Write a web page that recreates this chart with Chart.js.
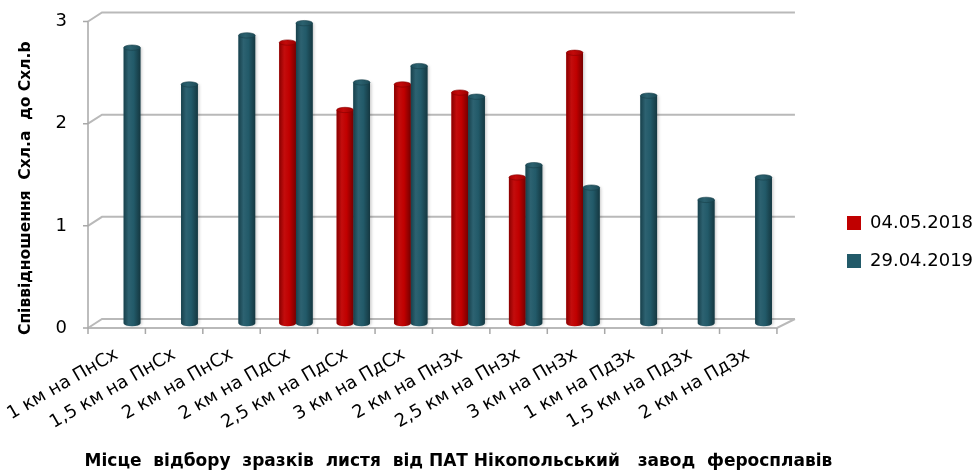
<!DOCTYPE html>
<html>
<head>
<meta charset="utf-8">
<script src="https://cdn.jsdelivr.net/npm/chart.js@4/dist/chart.umd.min.js"></script>
<style>
  html, body { margin: 0; padding: 0; background: #ffffff; }
  canvas { display: block; }
</style>
</head>
<body>
<canvas id="chart" width="980" height="470"></canvas>
<script>
// Sampling points (distance and direction from the plant)
const categories = [
  '1 км на ПнСх', '1,5 км на ПнСх', '2 км на ПнСх',
  '2 км на ПдСх', '2,5 км на ПдСх', '3 км на ПдСх',
  '2 км на ПнЗх', '2,5 км на ПнЗх', '3 км на ПнЗх',
  '1 км на ПдЗх', '1,5 км на ПдЗх', '2 км на ПдЗх'
];
const seriesNames = ['04.05.2018', '29.04.2019'];
const values2018 = [null, null, null, 2.75, 2.09, 2.34, 2.26, 1.43, 2.65, null, null, null];
const values2019 = [2.70, 2.34, 2.82, 2.94, 2.36, 2.52, 2.22, 1.55, 1.33, 2.23, 1.21, 1.43];
const yTicks = [0, 1, 2, 3];
const yTitle = 'Співвідношення  Схл.а  до Схл.b';
const xTitle = 'Місце  відбору  зразків  листя  від ПАТ Нікопольський   завод  феросплавів';

const RED = '#c00000';
const TEAL = '#225a69';
const FONT = 'DejaVu Sans';

// The plot area is the middle plane of a shallow 3D box:
// the front plane sits at (-HX, +HY), the back wall at (+HX, -HY).
const HX = 7, HY = 4.5;
// gap between the labels and the front axes
const Y_LABEL_GAP = 21, X_LABEL_GAP = 16;

function shade(hex, f) {
  const n = parseInt(hex.slice(1), 16);
  let r = (n >> 16) & 255, g = (n >> 8) & 255, b = n & 255;
  const t = f < 0 ? 0 : 255, p = Math.abs(f);
  r = Math.round((t - r) * p + r);
  g = Math.round((t - g) * p + g);
  b = Math.round((t - b) * p + b);
  return `rgb(${r},${g},${b})`;
}

// Walls, floor and gridlines of the 3D frame
const frame3d = {
  id: 'frame3d',
  beforeDatasetsDraw(chart) {
    const { ctx, scales: { x, y } } = chart;
    const L = x.left, R = x.right;
    const base = y.getPixelForValue(0);
    const top = y.getPixelForValue(yTicks[yTicks.length - 1]);
    const backRight = R + 11;
    ctx.save();
    ctx.lineCap = 'butt';

    // back-wall gridlines with the side-wall diagonal
    ctx.strokeStyle = '#b9b9b9';
    ctx.lineWidth = 2;
    yTicks.forEach(v => {
      const py = y.getPixelForValue(v);
      ctx.beginPath();
      ctx.moveTo(L - HX, py + HY);
      ctx.lineTo(L + HX, py - HY);
      ctx.lineTo(backRight, py - HY);
      ctx.stroke();
    });

    // floor: front edge and right diagonal
    ctx.beginPath();
    ctx.moveTo(L - HX, base + HY);
    ctx.lineTo(R - HX, base + HY);
    ctx.lineTo(backRight, base - HY);
    ctx.stroke();

    // front value axis with its small tick marks
    ctx.strokeStyle = '#a8a8a8';
    ctx.lineWidth = 1.5;
    ctx.beginPath();
    ctx.moveTo(L - HX, top + HY);
    ctx.lineTo(L - HX, base + HY);
    yTicks.forEach(v => {
      const py = y.getPixelForValue(v) + HY;
      ctx.moveTo(L - HX - 5, py);
      ctx.lineTo(L - HX, py);
    });
    // category tick marks under the floor edge
    const step = (R - L) / categories.length;
    for (let i = 0; i <= categories.length; i++) {
      const px = L - HX + i * step;
      ctx.moveTo(px, base + HY);
      ctx.lineTo(px, base + HY + 6);
    }
    ctx.stroke();
    ctx.restore();
  }
};

// Cylindrical shading over each bar
const cylinders = {
  id: 'cylinders',
  afterDatasetsDraw(chart) {
    const ctx = chart.ctx;
    chart.data.datasets.forEach((ds, di) => {
      const meta = chart.getDatasetMeta(di);
      if (meta.hidden) return;
      const c = ds.backgroundColor;
      meta.data.forEach((bar, i) => {
        if (ds.data[i] == null) return;
        const { x, y, base, width } = bar.getProps(['x', 'y', 'base', 'width'], true);
        const l = x - width / 2, w = width, rx = w / 2, ry = Math.max(2, w * 0.16);

        ctx.save();
        const g = ctx.createLinearGradient(l, 0, l + w, 0);
        g.addColorStop(0, shade(c, -0.28));
        g.addColorStop(0.3, shade(c, 0.05));
        g.addColorStop(0.6, c);
        g.addColorStop(1, shade(c, -0.38));
        ctx.shadowColor = 'rgba(0,0,0,0.2)';
        ctx.shadowBlur = 3;
        ctx.shadowOffsetX = 1.5;
        ctx.fillStyle = g;
        ctx.beginPath();
        ctx.moveTo(l, y);
        ctx.lineTo(l, base);
        ctx.ellipse(x, base, rx, ry, 0, Math.PI, 0, true);
        ctx.lineTo(l + w, y);
        ctx.closePath();
        ctx.fill();
        ctx.shadowColor = 'transparent';

        // top cap
        const gt = ctx.createLinearGradient(l, 0, l + w, 0);
        gt.addColorStop(0, shade(c, -0.12));
        gt.addColorStop(0.4, shade(c, 0.04));
        gt.addColorStop(1, shade(c, -0.18));
        ctx.fillStyle = gt;
        ctx.beginPath();
        ctx.ellipse(x, y, rx, ry, 0, 0, Math.PI * 2);
        ctx.fill();
        ctx.strokeStyle = shade(c, -0.3);
        ctx.lineWidth = 0.6;
        ctx.stroke();
        ctx.restore();
      });
    });
  }
};

// Axis labels belong to the front plane; legend sits at the right margin
const placeLayers = {
  id: 'placeLayers',
  afterLayout(chart) {
    const wrap = (obj, name, off, widen = 0) => {
      const key = '__base_' + name;
      if (!obj[key]) obj[key] = obj[name];
      const orig = obj[key];
      obj[name] = function (...args) {
        const c = chart.ctx;
        const [dx, dy] = off(this);
        const l = this.left, r = this.right;
        // let a long title run a little past the plot edges
        this.left = l - widen;
        this.right = r + widen;
        c.save();
        c.translate(dx, dy);
        orig.apply(this, args);
        c.restore();
        this.left = l;
        this.right = r;
      };
    };
    const { x, y } = chart.scales;
    wrap(x, 'drawLabels', () => [-HX, HY + X_LABEL_GAP]);
    wrap(y, 'drawLabels', () => [-HX - Y_LABEL_GAP, HY]);
    wrap(x, 'drawTitle', () => [19, HY + 2], 60);
    wrap(y, 'drawTitle', () => [-HX, 18]);
    if (chart.legend) {
      wrap(chart.legend, 'draw', lg => {
        const hb = lg.legendHitBoxes && lg.legendHitBoxes[0];
        if (!hb) return [0, 0];
        return [847 - hb.left, 223 - (hb.top + hb.height / 2)];
      });
    }
  }
};

new Chart(document.getElementById('chart'), {
  type: 'bar',
  data: {
    labels: categories,
    datasets: [
      { label: seriesNames[0], data: values2018, backgroundColor: RED },
      { label: seriesNames[1], data: values2019, backgroundColor: TEAL }
    ]
  },
  options: {
    responsive: false,
    animation: false,
    layout: { padding: { top: 17, right: 40, left: 0, bottom: 0 } },
    datasets: { bar: { categoryPercentage: 0.58, barPercentage: 1.0 } },
    scales: {
      x: {
        grid: { display: false, drawTicks: false },
        border: { display: false },
        ticks: {
          autoSkip: false, minRotation: 30, maxRotation: 30, padding: 0,
          color: '#000', font: { family: FONT, size: 18 }
        },
        title: {
          display: true, text: xTitle, color: '#000',
          font: { family: FONT, size: 17, weight: 'bold' },
          padding: { top: 0, bottom: 5 }
        },
        afterFit(s) { s.height = 146.5; }
      },
      y: {
        min: 0, max: 3,
        grid: { display: false, drawTicks: false },
        border: { display: false },
        afterBuildTicks(s) { s.ticks = yTicks.map(v => ({ value: v })); },
        ticks: { padding: 0, color: '#000', font: { family: FONT, size: 18 } },
        title: {
          display: true, text: yTitle, color: '#000',
          font: { family: FONT, size: 15.5, weight: 'bold' },
          padding: { top: 24, bottom: 0 }
        },
        afterFit(s) { s.width = 95; }
      }
    },
    plugins: {
      legend: {
        position: 'right',
        labels: {
          boxWidth: 14, boxHeight: 14, padding: 20,
          color: '#000', font: { family: FONT, size: 18 }
        }
      },
      tooltip: { enabled: false }
    }
  },
  plugins: [frame3d, cylinders, placeLayers]
});
</script>
</body>
</html>
